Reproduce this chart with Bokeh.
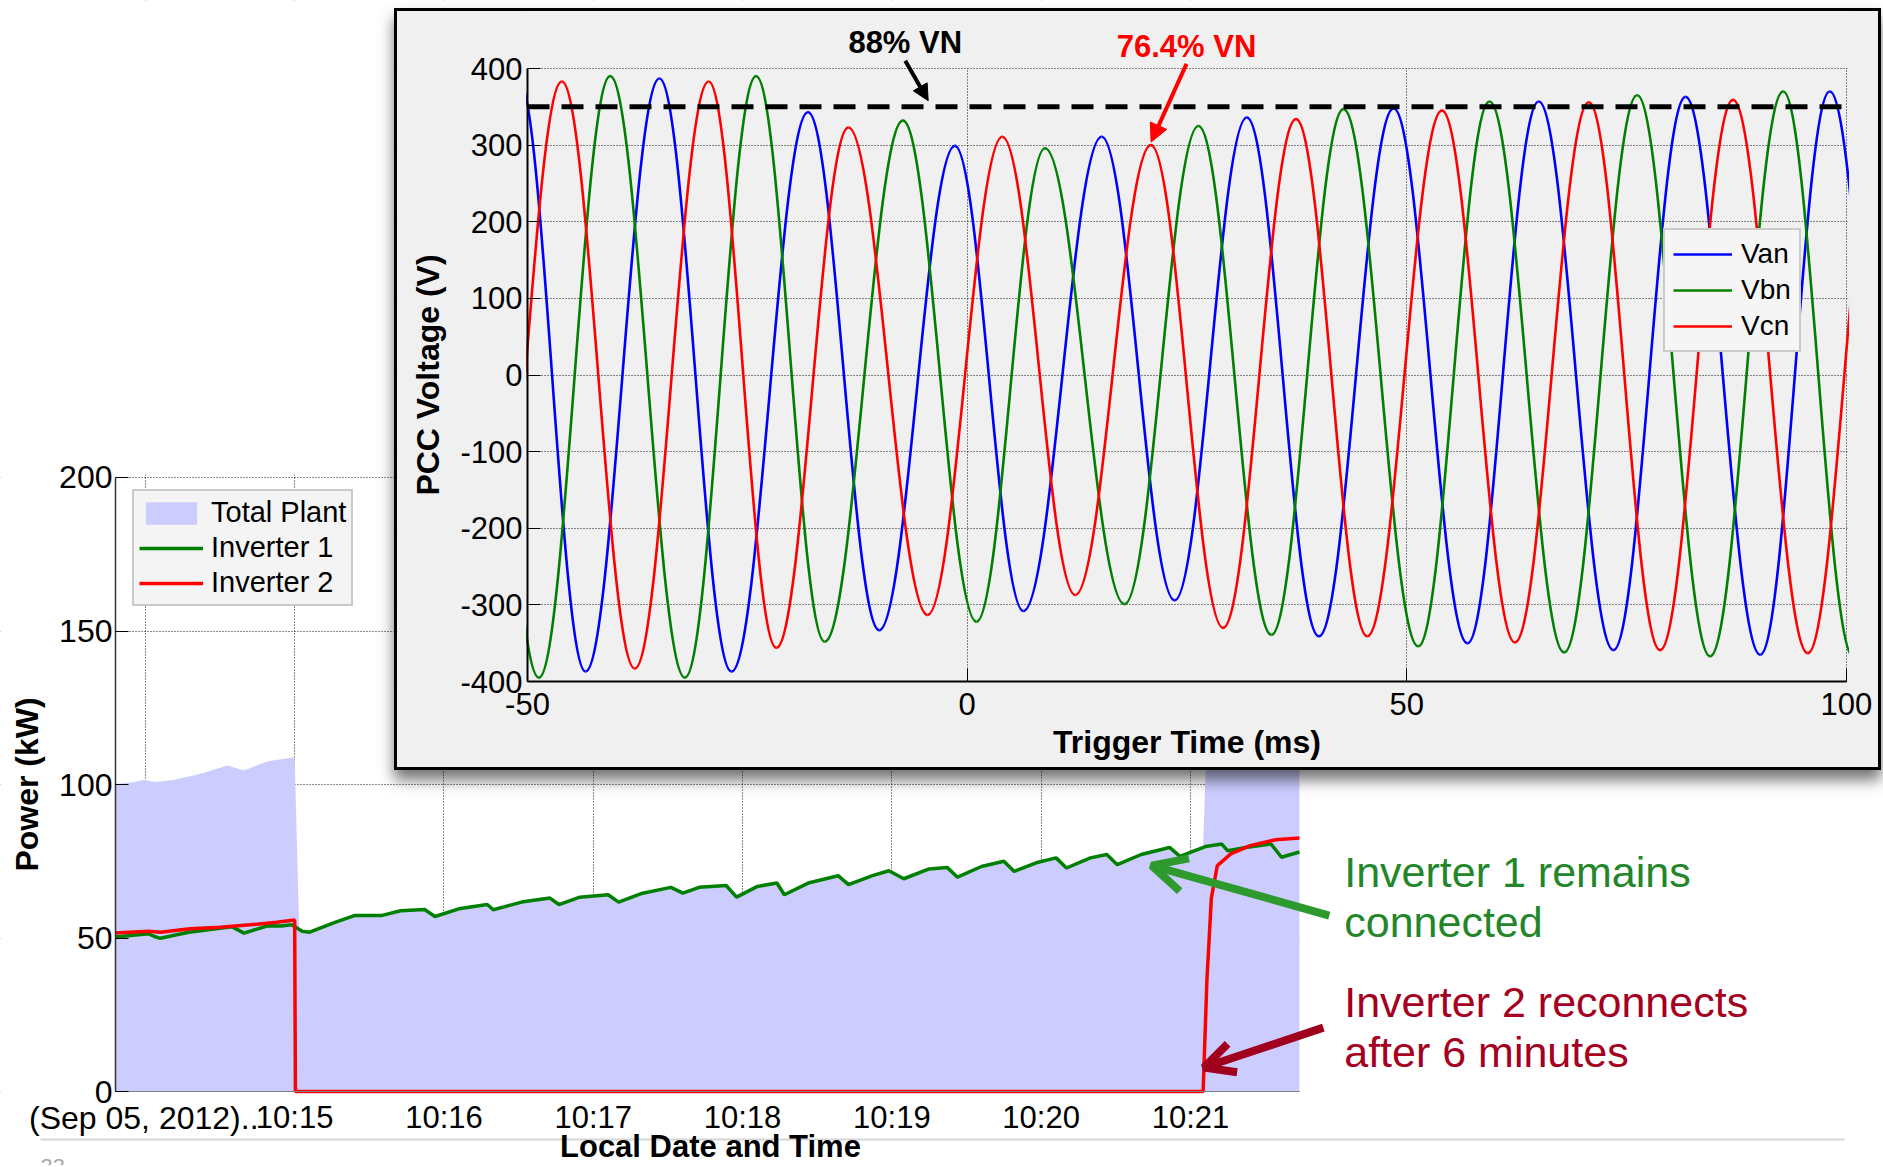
import numpy as np
from bokeh.plotting import figure
from bokeh.models import (Range1d, FixedTicker, Legend, LegendItem, Label, Arrow,
                          OpenHead, NormalHead, BoxAnnotation, ColumnDataSource)
from bokeh.layouts import column
from bokeh.embed import file_html
from bokeh.resources import INLINE

FONT = "Liberation Sans"

# ---------------- main chart data (time = minutes after 10:00, Sep 05 2012) ----------------
inv1_min = [13.80, 14.02, 14.06, 14.10, 14.29, 14.58, 14.66, 14.82, 14.91, 14.98,
            15.05, 15.10, 15.27, 15.40, 15.58, 15.71, 15.87, 15.94, 16.10, 16.29,
            16.33, 16.52, 16.71, 16.77, 16.91, 17.10, 17.17, 17.33, 17.52, 17.60,
            17.71, 17.89, 17.96, 18.10, 18.23, 18.28, 18.44, 18.64, 18.71, 18.87,
            18.98, 19.08, 19.25, 19.37, 19.44, 19.60, 19.75, 19.82, 19.98, 20.10,
            20.17, 20.33, 20.44, 20.51, 20.67, 20.86, 20.93, 21.10, 21.21, 21.25,
            21.37, 21.54, 21.61, 21.73]
inv1_kw = [50.3, 51.4, 50.5, 49.9, 51.9, 53.7, 51.6, 54.0, 53.9, 54.3,
           52.2, 51.9, 55.1, 57.3, 57.3, 58.9, 59.3, 57.0, 59.5, 60.9,
           59.2, 61.7, 63.0, 60.9, 63.3, 64.1, 61.7, 64.6, 66.5, 64.6,
           66.5, 67.1, 63.3, 66.8, 67.9, 64.1, 67.9, 70.3, 67.4, 70.3,
           71.9, 69.3, 72.5, 73.0, 69.8, 73.3, 75.0, 71.7, 74.7, 76.1,
           72.8, 76.1, 77.2, 73.9, 77.2, 79.5, 76.6, 79.8, 80.6, 78.4,
           79.5, 80.6, 76.3, 78.0]

inv2_min = [13.80, 14.02, 14.10, 14.30, 14.50, 14.70, 14.88, 15.00, 15.005,
            21.085, 21.11, 21.14, 21.18, 21.27, 21.40, 21.57, 21.73]
inv2_kw = [51.6, 52.2, 51.9, 53.0, 53.5, 54.3, 55.1, 55.9, 0.0,
           0.0, 36.0, 63.0, 73.6, 77.4, 80.1, 82.0, 82.6]

plant_pre_min = [13.80, 13.93, 13.99, 14.06, 14.19, 14.37, 14.55, 14.66, 14.82, 15.00, 15.03]
plant_pre_kw = [100.2, 100.8, 101.5, 100.8, 101.5, 103.5, 106.2, 104.6, 107.6, 108.9, 52.9]
plant_post_min = [21.085, 21.11, 21.14, 21.18, 21.27, 21.40, 21.57, 21.73]
plant_post_kw = [80.0, 116.0, 143.0, 154.0, 157.0, 160.0, 162.0, 160.6]

power_ticks = [0, 50, 100, 150, 200]
time_ticks = [14, 15, 16, 17, 18, 19, 20, 21]
time_labels = ["", "10:15", "10:16", "10:17", "10:18", "10:19", "10:20", "10:21"]
date_prefix = "(Sep 05, 2012).."
page_number = "33"

# ---------------- inset data: waveform extrema (ms, V) ----------------
van_ms = [-51.0, -43.4, -35.0, -26.8, -18.1, -10.0, -1.4, 6.4, 15.3, 23.6,
          31.8, 40.0, 48.5, 56.9, 65.0, 73.5, 81.7, 90.2, 98.1, 106.4]
van_v = [385, -387, 387, -387, 343, -333, 299, -308, 311, -294,
         336, -341, 348, -350, 357, -359, 363, -365, 370, -366]
vbn_ms = [-57.0, -48.7, -40.6, -32.1, -24.0, -16.2, -7.3, 1.06, 8.85, 17.9,
          26.3, 34.6, 42.8, 51.3, 59.4, 67.9, 76.2, 84.5, 92.8, 100.8]
vbn_v = [385, -395, 390, -395, 390, -348, 332, -322, 296, -299,
         325, -339, 347, -354, 357, -362, 365, -367, 370, -368]
vcn_ms = [-54.4, -46.1, -37.8, -29.4, -21.7, -13.5, -4.5, 4.0, 12.3, 20.9,
          29.1, 37.4, 45.5, 54.0, 62.3, 70.7, 78.8, 87.1, 95.6, 103.9]
vcn_v = [-380, 383, -383, 383, -356, 323, -313, 311, -287, 300,
         -330, 334, -341, 345, -349, 356, -359, 359, -363, 360]
vn88_level = 350
volt_ticks = [-400, -300, -200, -100, 0, 100, 200, 300, 400]
trig_ticks = [-50, 0, 50, 100]

GREEN = "#008000"
RED = "#FF0000"
BLUE = "#0000FF"

# ================= main figure (frame = whole canvas, axes fixed inside) =================
T0, T1 = inv1_min[0], inv1_min[-1]
P0, P1 = power_ticks[0], power_ticks[-1]

mid = [(t, k) for t, k in zip(inv1_min, inv1_kw) if plant_pre_min[-1] < t < plant_post_min[0]]
plant_t = plant_pre_min + [t for t, _ in mid] + plant_post_min
plant_kw = plant_pre_kw + [k for _, k in mid] + plant_post_kw

p = figure(width=1880, height=1165, title=None, output_backend="svg", toolbar_location=None,
           x_range=Range1d(13.0297, 25.622), y_range=Range1d(-24.10, 355.37),
           min_border=0, min_border_left=0, min_border_right=0, min_border_top=0,
           min_border_bottom=0, background_fill_color="white", border_fill_color="white")
p.outline_line_color = None

p.xgrid.ticker = FixedTicker(ticks=time_ticks)
p.ygrid.ticker = FixedTicker(ticks=power_ticks)
for g in (p.xgrid, p.ygrid):
    g.grid_line_color = "black"
    g.grid_line_dash = "1 2"
    g.grid_line_width = 1
    g.grid_line_alpha = 0.9

# white masks outside the axes box (grid lines stop at the plot box)
for kw in (dict(right=T0), dict(left=T1), dict(bottom=P1 + 1), dict(top=P0)):
    p.add_layout(BoxAnnotation(fill_color="white", fill_alpha=1.0, line_color=None,
                               level="underlay", **kw))
# slide footer rule
p.add_layout(BoxAnnotation(left=13.2976, right=25.381, bottom=-15.96, top=-15.31,
                           fill_color="#D6D6D6", fill_alpha=1.0, line_color=None,
                           level="underlay"))

r_fill = p.varea(x=plant_t, y1=0, y2=plant_kw, fill_color="#CCCCFF", fill_alpha=1.0)
r_g = p.line(inv1_min, inv1_kw, line_color=GREEN, line_width=3.5)
r_r = p.line(inv2_min, inv2_kw, line_color=RED, line_width=3.5)

leg = Legend(items=[LegendItem(label="Total Plant", renderers=[r_fill]),
                    LegendItem(label="Inverter 1", renderers=[r_g]),
                    LegendItem(label="Inverter 2", renderers=[r_r])],
             location=(132, 559), orientation="vertical",
             label_text_font=FONT, label_text_font_size="29px", label_text_color="black",
             glyph_width=64, glyph_height=28, label_standoff=8, padding=5, spacing=2,
             border_line_color="#A0A0A0", border_line_width=2,
             background_fill_color="#F4F4F4", background_fill_alpha=1.0)
p.add_layout(leg)

yax = p.yaxis[0]
yax.fixed_location = T0
yax.bounds = (P0, P1)
yax.ticker = FixedTicker(ticks=power_ticks)
yax.axis_line_color = "#333333"
yax.axis_line_width = 1.5
yax.major_tick_in = 13
yax.major_tick_out = 0
yax.major_tick_line_color = "black"
yax.minor_tick_line_color = None
yax.major_label_text_font = FONT
yax.major_label_text_font_size = "32px"
yax.major_label_text_color = "black"
yax.major_label_standoff = 3

xax = p.xaxis[0]
xax.fixed_location = P0
xax.bounds = (T0, T1)
xax.ticker = FixedTicker(ticks=time_ticks)
xax.major_label_overrides = dict(zip(time_ticks, time_labels))
xax.axis_line_color = "#7F7F7F"
xax.axis_line_width = 1
xax.major_tick_in = 0
xax.major_tick_out = 0
xax.minor_tick_line_color = None
xax.major_label_text_font = FONT
xax.major_label_text_font_size = "31px"
xax.major_label_text_color = "black"
xax.major_label_standoff = 8

p.add_layout(Label(x=13.204, y=100, text="Power (kW)", angle=np.pi / 2,
                   text_align="center", text_baseline="middle", text_font=FONT,
                   text_font_size="32px", text_font_style="bold", text_color="black"))
p.add_layout(Label(x=14.758, y=-8.6, text=date_prefix, text_align="right",
                   text_baseline="middle", text_font=FONT, text_font_size="32px",
                   text_color="black"))
p.add_layout(Label(x=17.785, y=-17.8, text="Local Date and Time", text_align="center",
                   text_baseline="middle", text_font=FONT, text_font_size="31px",
                   text_font_style="bold", text_color="black"))
p.add_layout(Label(x=13.298, y=-22.1, text=page_number, text_align="left",
                   text_baseline="top", text_font=FONT, text_font_size="22px",
                   text_color="#A6A6A6"))

GREEN_TXT = "#23862A"
GREEN_ARW = "#2E9A2E"
RED_TXT = "#A50021"
RED_ARW = "#A0001E"
for txt, yv, col in [("Inverter 1 remains", 71.4, GREEN_TXT), ("connected", 55.1, GREEN_TXT),
                     ("Inverter 2 reconnects", 29.1, RED_TXT), ("after 6 minutes", 12.8, RED_TXT)]:
    p.add_layout(Label(x=22.03, y=yv, text=txt, text_font=FONT, text_font_size="43px",
                       text_color=col, text_align="left", text_baseline="middle"))

p.add_layout(Arrow(end=OpenHead(size=34, line_color=GREEN_ARW, line_width=8),
                   x_start=21.93, y_start=57.3, x_end=20.74, y_end=73.6,
                   line_color=GREEN_ARW, line_width=8))
p.add_layout(Arrow(end=OpenHead(size=30, line_color=RED_ARW, line_width=8),
                   x_start=21.89, y_start=20.8, x_end=21.09, y_end=7.8,
                   line_color=RED_ARW, line_width=8))

# ================= inset figure (frame = whole canvas, axes fixed inside) =================
V0, V1 = volt_ticks[0], volt_ticks[-1]
M0, M1 = trig_ticks[0], trig_ticks[-1]
INSET_BG = "#F0F0F0"

q = figure(width=1481, height=756, title=None, output_backend="svg", toolbar_location=None,
           x_range=Range1d(-64.785, 103.645), y_range=Range1d(-512.2, 474.39),
           min_border=0, min_border_left=0, min_border_right=0, min_border_top=0,
           min_border_bottom=0, background_fill_color=INSET_BG, border_fill_color=INSET_BG)
q.outline_line_color = None
q.styles = {"position": "absolute", "left": "397px", "top": "11px", "z-index": "10",
            "box-shadow": "0 0 0 3px #000000, 0px 10px 14px 3px rgba(0,0,0,0.55)"}

q.xgrid.ticker = FixedTicker(ticks=trig_ticks)
q.ygrid.ticker = FixedTicker(ticks=volt_ticks)
for g in (q.xgrid, q.ygrid):
    g.grid_line_color = "black"
    g.grid_line_dash = "1 2"
    g.grid_line_width = 1
    g.grid_line_alpha = 0.9

for kw in (dict(right=M0), dict(left=M1 + 0.12), dict(bottom=V1 + 0.5), dict(top=V0)):
    q.add_layout(BoxAnnotation(fill_color=INSET_BG, fill_alpha=1.0, line_color=None,
                               level="underlay", **kw))

A = 0.3634  # bezier handle fraction giving a half-cosine shape between extrema


def wave(fig, t, v, color):
    t = np.asarray(t, dtype=float)
    v = np.asarray(v, dtype=float)
    dt = np.diff(t)
    src = ColumnDataSource(dict(x0=t[:-1], y0=v[:-1], x1=t[1:], y1=v[1:],
                                cx0=t[:-1] + A * dt, cy0=v[:-1],
                                cx1=t[1:] - A * dt, cy1=v[1:]))
    return fig.bezier(x0="x0", y0="y0", x1="x1", y1="y1", cx0="cx0", cy0="cy0",
                      cx1="cx1", cy1="cy1", source=src, line_color=color, line_width=2.6)


rb = wave(q, van_ms, van_v, BLUE)
rg = wave(q, vbn_ms, vbn_v, GREEN)
rr = wave(q, vcn_ms, vcn_v, RED)
# keep waveforms inside the axes box
for kw in (dict(right=M0 - 0.15), dict(left=M1 + 0.3)):
    q.add_layout(BoxAnnotation(fill_color=INSET_BG, fill_alpha=1.0, line_color=None,
                               level="glyph", **kw))

# 88% VN threshold, across the axes box
q.line(x=[M0, M1], y=[vn88_level, vn88_level], line_color="black", line_width=5,
       line_dash="22 12")

leg2 = Legend(items=[LegendItem(label="Van", renderers=[rb]),
                     LegendItem(label="Vbn", renderers=[rg]),
                     LegendItem(label="Vcn", renderers=[rr])],
              location=(1266, 415), orientation="vertical",
              label_text_font=FONT, label_text_font_size="28px", label_text_color="black",
              glyph_width=59, glyph_height=20, label_standoff=9, padding=8, spacing=4,
              border_line_color="#A0A0A0", border_line_width=2,
              background_fill_color="#F5F5F5", background_fill_alpha=1.0)
q.add_layout(leg2)

qy = q.yaxis[0]
qy.fixed_location = M0
qy.bounds = (V0, V1)
qy.ticker = FixedTicker(ticks=volt_ticks)
qy.major_label_overrides = {t: str(t) for t in volt_ticks}
qy.major_label_standoff = 5
qx = q.xaxis[0]
qx.fixed_location = V0
qx.bounds = (M0, M1)
qx.ticker = FixedTicker(ticks=trig_ticks)
qx.major_label_overrides = {t: str(t) for t in trig_ticks}
qx.major_label_standoff = 11
for ax in (qx, qy):
    ax.axis_line_color = "black"
    ax.axis_line_width = 2
    ax.major_tick_in = 13
    ax.major_tick_out = 0
    ax.major_tick_line_color = "black"
    ax.minor_tick_line_color = None
    ax.major_label_text_font = FONT
    ax.major_label_text_font_size = "31px"
    ax.major_label_text_color = "black"

q.add_layout(Label(x=-61.37, y=0, text="PCC Voltage (V)", angle=np.pi / 2,
                   text_align="center", text_baseline="middle", text_font=FONT,
                   text_font_size="32px", text_font_style="bold", text_color="black"))
q.add_layout(Label(x=25.0, y=-478.3, text="Trigger Time (ms)", text_align="center",
                   text_baseline="middle", text_font=FONT, text_font_size="32px",
                   text_font_style="bold", text_color="black"))

q.add_layout(Label(x=-7.04, y=434, text="88% VN", text_font=FONT, text_font_size="31px",
                   text_font_style="bold", text_color="black", text_align="center",
                   text_baseline="middle"))
q.add_layout(Arrow(end=NormalHead(size=16, fill_color="black", line_color="black"),
                   x_start=-7.04, y_start=410, x_end=-4.43, y_end=358,
                   line_color="black", line_width=4))
q.add_layout(Label(x=24.95, y=429, text="76.4% VN", text_font=FONT, text_font_size="31px",
                   text_font_style="bold", text_color=RED, text_align="center",
                   text_baseline="middle"))
q.add_layout(Arrow(end=NormalHead(size=18, fill_color=RED, line_color=RED),
                   x_start=24.95, y_start=406, x_end=20.92, y_end=304,
                   line_color=RED, line_width=4))

root = column(p, q, styles={"position": "relative"})

open("out.html", "w").write(file_html(root, INLINE))
